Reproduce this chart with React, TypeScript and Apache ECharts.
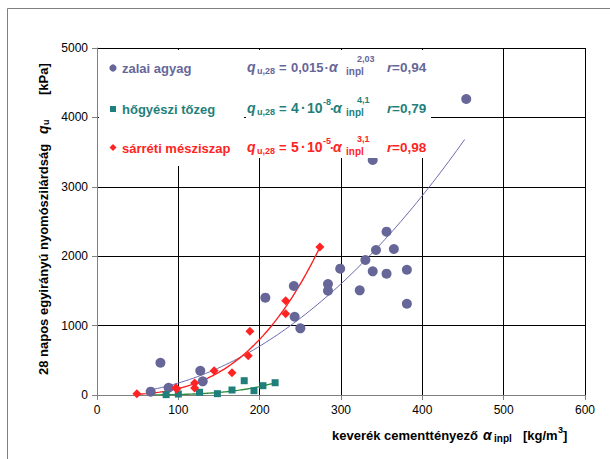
import React, { useEffect, useRef } from "react";
import * as echarts from "echarts";

// ---- data ----
const X_TICKS_MAX = 600;
const Y_TICKS_MAX = 5000;

const zalaiX = [66, 78, 88, 127, 130, 207, 242, 243, 250, 284, 284, 299, 323, 330, 339, 343, 356, 356, 365, 381, 381, 339, 454];
const zalaiY = [48, 465, 105, 350, 197, 1402, 1571, 1128, 961, 1599, 1503, 1820, 1508, 1945, 1782, 2089, 1748, 2353, 2104, 1805, 1315, 3386, 4265];

const tozegX = [85, 100, 126, 148, 166, 181, 193, 204, 219];
const tozegY = [5, 14, 39, 19, 72, 206, 62, 134, 177];

const mesziX = [49, 97, 98, 120, 120, 144, 166, 186, 188, 232, 232, 274];
const mesziY = [19, 105, 85, 173, 101, 350, 322, 566, 918, 1171, 1359, 2133];

// power-law trend lines q = a * x^b (coefficients as drawn), range of the fit
const trendZalai = { a: 0.015, b: 2.03, from: 60, to: 452 };
const trendTozeg = { a: 4.5e-8, b: 4.1, from: 64, to: 219 };
const trendMeszi = { a: 5.9e-5, b: 3.1, from: 49, to: 274 };

const seriesNames = ["zalai agyag", "hőgyészi tőzeg", "sárréti mésziszap"];
const eqCoef = ["0,015", "4·10", "5·10"];
const eqPow = ["", "-8", "-5"];
const eqExp = ["2,03", "4,1", "3,1"];
const eqR = ["0,94", "0,79", "0,98"];

const COLORS = ["#666699", "#1f7f7a", "#ff2424"];
const TREND_COLORS = ["#6a6aae", "#2e8c3c", "#ff2020"];
const FONT = '"Liberation Sans", Arial, Helvetica, sans-serif';

function trendPoints(t: { a: number; b: number; from: number; to: number }) {
  const pts: number[][] = [];
  const n = 80;
  for (let i = 0; i <= n; i++) {
    const x = t.from + ((t.to - t.from) * i) / n;
    pts.push([x, t.a * Math.pow(x, t.b)]);
  }
  return pts;
}

function zip(xs: number[], ys: number[]) {
  return xs.map((x, i) => [x, ys[i]]);
}

function T(x: number, y: number, text: string, o: any = {}) {
  return {
    type: "text",
    x,
    y,
    z: 101,
    rotation: o.rotation || 0,
    style: {
      text,
      fill: o.color || "#000",
      fontSize: o.size || 13,
      fontWeight: o.weight || "bold",
      fontStyle: o.italic ? "italic" : "normal",
      fontFamily: FONT,
      align: o.align || "left",
      textAlign: o.align || "left",
      verticalAlign: "middle",
      textVerticalAlign: "middle",
    },
  };
}

export default function App() {
  const ref = useRef<HTMLDivElement>(null);
  useEffect(() => {
    if (!ref.current) return;
    const chart = echarts.init(ref.current, null, { renderer: "svg" });

    const rowsY = [67, 108, 147];
    const graphics: any[] = [];
    // outer frame
    graphics.push({
      type: "rect",
      z: 0,
      shape: { x: 7.5, y: 8.5, width: 700, height: 700 },
      style: { fill: "none", stroke: "#7f7f7f", lineWidth: 1 },
    });
    // white boxes behind legend & equations
    graphics.push({ type: "rect", z: 100, shape: { x: 99, y: 50, width: 145, height: 116 }, style: { fill: "#fff" } });
    graphics.push({ type: "rect", z: 100, shape: { x: 246, y: 50, width: 185, height: 108 }, style: { fill: "#fff" } });

    // legend markers
    graphics.push({ type: "circle", z: 101, shape: { cx: 113, cy: rowsY[0] + 1, r: 3.6 }, style: { fill: COLORS[0] } });
    graphics.push({ type: "rect", z: 101, shape: { x: 110, y: rowsY[1] - 2, width: 6, height: 6 }, style: { fill: COLORS[1] } });
    graphics.push({
      type: "polygon",
      z: 101,
      shape: { points: [[113, rowsY[2] - 3], [116.5, rowsY[2] + 0.5], [113, rowsY[2] + 4], [109.5, rowsY[2] + 0.5]] },
      style: { fill: COLORS[2] },
    });

    for (let i = 0; i < 3; i++) {
      const y = rowsY[i];
      const c = COLORS[i];
      graphics.push(T(122, y + 1, seriesNames[i], { color: c }));
      graphics.push(T(247, y, "q", { color: c, italic: true, size: 14 }));
      graphics.push(T(257, y + 4, "u,28", { color: c, size: 9 }));
      graphics.push(T(279, y, "=", { color: c }));
      if (eqPow[i]) {
        const parts = eqCoef[i].split("·");
        graphics.push(T(291, y, parts[0], { color: c, size: 14 }));
        graphics.push(T(301, y, "·", { color: c, size: 14 }));
        graphics.push(T(307, y, parts[1], { color: c, size: 14 }));
        graphics.push(T(323, y - 6, eqPow[i], { color: c, size: 9 }));
        graphics.push(T(330, y, "·", { color: c }));
        graphics.push(T(333, y, "α", { color: c, italic: true, size: 14 }));
      } else {
        graphics.push(T(291, y, eqCoef[i], { color: c, size: 13 }));
        graphics.push(T(324.5, y, "·", { color: c }));
        graphics.push(T(329, y, "α", { color: c, italic: true, size: 14 }));
      }
      graphics.push(T(346, y + 4, "inpl", { color: c, size: 10 }));
      graphics.push(T(357, y - 8, eqExp[i], { color: c, size: 9 }));
      graphics.push(T(387, y, "r", { color: c, italic: true, size: 13.5 }));
      graphics.push(T(392, y, "=" + eqR[i], { color: c, size: 13.5 }));
    }

    // y-axis title (rotated)
    const rot = Math.PI / 2;
    graphics.push(T(43, 375, "28 napos egyirányú nyomószilárdság", { rotation: rot }));
    graphics.push(T(43, 134, "q", { rotation: rot, italic: true, size: 14 }));
    graphics.push(T(46, 125, "u", { rotation: rot, size: 9 }));
    graphics.push(T(43, 95, "[kPa]", { rotation: rot }));

    // x-axis title
    graphics.push(T(332, 435, "keverék cementtényező", {}));
    graphics.push(T(483, 435, "α", { italic: true, size: 14 }));
    graphics.push(T(494, 438, "inpl", { size: 10 }));
    graphics.push(T(523, 435, "[kg/m", {}));
    graphics.push(T(558, 430, "3", { size: 9 }));
    graphics.push(T(563, 435, "]", {}));

    chart.setOption({
      animation: false,
      backgroundColor: "#fff",
      grid: { left: 97, right: 25, top: 48, bottom: 64, containLabel: false },
      xAxis: {
        type: "value",
        min: 0,
        max: X_TICKS_MAX,
        interval: 100,
        axisLine: { show: true, onZero: false, lineStyle: { color: "#808080", width: 1 } },
        axisTick: { show: true, length: 5, lineStyle: { color: "#808080" } },
        axisLabel: { color: "#000", fontSize: 12, fontFamily: FONT, margin: 9, formatter: (v: number) => String(v) },
        splitLine: { show: true, lineStyle: { color: "#000", width: 1 } },
      },
      yAxis: {
        type: "value",
        min: 0,
        max: Y_TICKS_MAX,
        interval: 1000,
        axisLine: { show: true, onZero: false, lineStyle: { color: "#808080", width: 1 } },
        axisTick: { show: true, length: 5, lineStyle: { color: "#808080" } },
        axisLabel: { color: "#000", fontSize: 12, fontFamily: FONT, margin: 9, formatter: (v: number) => String(v) },
        splitLine: { show: true, lineStyle: { color: "#000", width: 1 } },
      },
      graphic: { elements: graphics },
      series: [
        {
          type: "line",
          data: trendPoints(trendZalai),
          showSymbol: false,
          lineStyle: { color: TREND_COLORS[0], width: 1 },
          z: 2,
        },
        {
          type: "line",
          data: trendPoints(trendTozeg),
          showSymbol: false,
          lineStyle: { color: TREND_COLORS[1], width: 1.4 },
          z: 2,
        },
        {
          type: "line",
          data: trendPoints(trendMeszi),
          showSymbol: false,
          lineStyle: { color: TREND_COLORS[2], width: 1.4 },
          z: 2,
        },
        {
          name: seriesNames[0],
          type: "scatter",
          data: zip(zalaiX, zalaiY),
          symbol: "circle",
          symbolSize: 10,
          itemStyle: { color: COLORS[0], opacity: 1 },
          z: 3,
        },
        {
          name: seriesNames[1],
          type: "scatter",
          data: zip(tozegX, tozegY),
          symbol: "rect",
          symbolSize: 7,
          itemStyle: { color: COLORS[1], opacity: 1 },
          z: 3,
        },
        {
          name: seriesNames[2],
          type: "scatter",
          data: zip(mesziX, mesziY),
          symbol: "diamond",
          symbolSize: 9,
          itemStyle: { color: COLORS[2], opacity: 1 },
          z: 3,
        },
      ],
    });
    return () => chart.dispose();
  }, []);
  return (
    <div
      ref={ref}
      style={{ position: "absolute", left: 0, top: 0, width: 610, height: 459, background: "#fff" }}
    />
  );
}
